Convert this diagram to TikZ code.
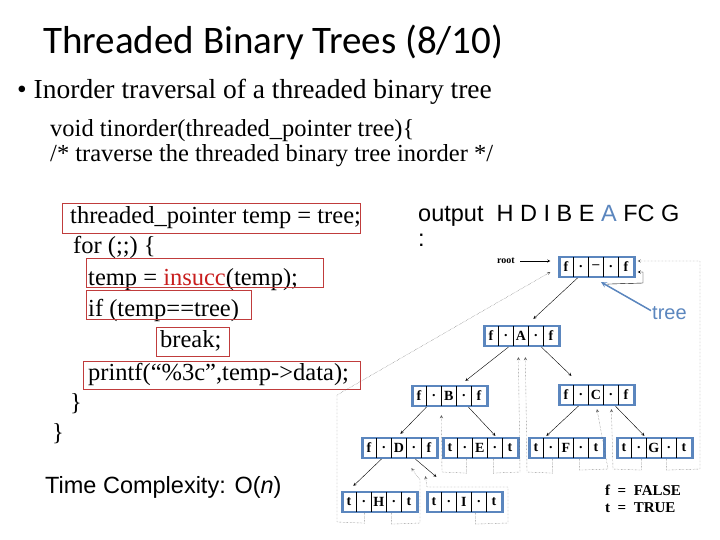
\documentclass[tikz,border=0pt]{standalone}
\usepackage{fontspec}
\setmainfont{Liberation Serif}
\newfontfamily\titlefont{Carlito}
\newfontfamily\arialfont{Liberation Sans}
\usetikzlibrary{calc, positioning}
\definecolor{treeblue}{RGB}{91,134,190}
\definecolor{boxred}{RGB}{192,60,60}
\definecolor{callred}{RGB}{200,30,30}
\tikzset
{
tbox/.style={draw=treeblue, line width=2.2pt, minimum width=75pt, minimum height=20pt, inner sep=0pt},
field/.style={font=\bfseries\fontsize{14}{14}\selectfont, inner sep=0pt},
code/.style={anchor=base west, inner sep=0pt, font=\fontsize{24.5}{24.5}\selectfont},
codebox/.style={draw=boxred, line width=0.8pt},
child/.style={->, >=stealth, thin},
thread/.style={->, >=stealth, densely dotted, gray!70!black, thin}
}
% one node of the threaded tree: name, position, left tag, data, right tag
\newcommand{\tnode}[5]{%
	\node[tbox] (#1) at (#2) {};
	\foreach \dx in {15,30,45,60}
		\draw[thin] ($(#1.north west)+(\dx,1)$) -- ($(#1.south west)+(\dx,-1)$);
	\node[field] at ($(#1.west)+(7.5,0)$) {#3};
	\node[field] at ($(#1.west)+(22.5,0)$) {.};
	\node[field] at ($(#1.west)+(37.5,0)$) {#4};
	\node[field] at ($(#1.west)+(52.5,0)$) {.};
	\node[field] at ($(#1.west)+(67.5,0)$) {#5};
}
\begin{document}
\begin{tikzpicture}[x=1pt, y=-1pt]
	\useasboundingbox (0,0) rectangle (720,540);

	% title and text
	\node[anchor=base west, inner sep=0pt, font=\titlefont\fontsize{39}{39}\selectfont] (title) at (43,54) {Threaded Binary Trees (8/10)};
	\node[anchor=base west, inner sep=0pt, font=\fontsize{27.5}{27.5}\selectfont] (bullet) at (17,99) {\textbullet\ Inorder traversal of a threaded binary tree};
	\node[code] (c1) at (50,137) {void tinorder(threaded\_pointer tree)\{};
	\node[code] (c2) at (50,162) {/* traverse the threaded binary tree inorder */};
	\node[code] (c3) at (70,224) {threaded\_pointer temp = tree;};
	\node[code] (c4) at (73,254) {for (;;) \{};
	\node[code] (c5) at (88,285) {temp = \textcolor{callred}{insucc}(temp);};
	\node[code] (c6) at (88,316) {if (temp==tree)};
	\node[code] (c7) at (160,347) {break;};
	\node[code] (c8) at (88,380) {printf(``\%3c'',temp->data);};
	\node[code] (c9) at (70,410) {\}};
	\node[code] (c10) at (52,440) {\}};

	% red frames round the code
	\draw[codebox] (62,203) rectangle (360,233);
	\draw[codebox] (86,258) rectangle (323,287);
	\draw[codebox] (86,290) rectangle (251,319);
	\draw[codebox] (156,327) rectangle (229,356);
	\draw[codebox] (83,361) rectangle (360,389);

	\node[anchor=base west, inner sep=0pt, font=\arialfont\fontsize{23.5}{23.5}\selectfont] (out) at (418,222) {output\ \ H D I B E \textcolor{treeblue}{A} FC G};
	\node[anchor=base west, inner sep=0pt, font=\arialfont\fontsize{23.5}{23.5}\selectfont] (colon) at (418,247) {:};
	\node[anchor=base west, inner sep=0pt, font=\arialfont\fontsize{23.5}{23.5}\selectfont] (tc) at (45,493) {Time Complexity: O(\textit{n})};

	% the tree
	\tnode{root}{597,267}{f}{--}{f}
	\tnode{A}{522,336}{f}{A}{f}
	\tnode{B}{450,396}{f}{B}{f}
	\tnode{C}{597,395}{f}{C}{f}
	\tnode{D}{400,448}{f}{D}{f}
	\tnode{E}{481,448}{t}{E}{t}
	\tnode{F}{567,448}{t}{F}{t}
	\tnode{G}{655,448}{t}{G}{t}
	\tnode{H}{380,502}{t}{H}{t}
	\tnode{I}{465,502}{t}{I}{t}

	\node[font=\bfseries\fontsize{10}{10}\selectfont, inner sep=0pt] (rootlbl) at (506,261) {root};
	\draw[child] (rootlbl.east) ++(5,0) -- ($(root.west)+(-8,-6)$);
	\draw[child] ($(root.south west)+(19,0)$) -- ($(A.north west)+(50,-6)$);
	\draw[child] ($(A.south west)+(25,0)$) -- ($(B.north west)+(54,-4)$);
	\draw[child] ($(A.south west)+(58,0)$) -- ($(C.north west)+(13,-8)$);
	\draw[child] ($(B.south west)+(15,0)$) -- ($(D.north west)+(39,-3)$);
	\draw[child] ($(B.south west)+(57,0)$) -- ($(E.north west)+(53,-1)$);
	\draw[child] ($(C.south west)+(20,0)$) -- ($(F.north west)+(18,-1)$);
	\draw[child] ($(C.south west)+(57,0)$) -- ($(G.north west)+(28,-1)$);
	\draw[child] ($(D.south west)+(20,0)$) -- ($(H.north west)+(12,-5)$);
	\draw[child] ($(D.south west)+(54,0)$) -- ($(I.north west)+(10,-14)$);
	% self link of the head
	\draw[->, >=stealth, thin] ($(root.south west)+(49,6)$) -- (643,283) -- (643,272) -- ($(root.east)+(2,5)$);

	% threads
	\draw[thread] ($(H.south west)+(23,0)$) -- ++(0,10) -- (337,522) -- (337,395) -- ($(root.west)+(-8,5)$);
	\draw[thread] ($(H.south west)+(50,0)$) -- ++(0,11) -- (420,523) -- (420,480) -- ($(D.south west)+(50,9)$);
	\draw[thread] ($(I.south west)+(49,0)$) -- ++(0,11) -- (508,523) -- (508,487) -- (427,487) -- ($(D.south west)+(64,17)$);
	\draw[thread] ($(E.south west)+(24,0)$) -- ++(0,14) -- (442,472) -- ($(B.south west)+(30,8)$);
	\draw[thread] ($(E.south west)+(51,0)$) -- ++(0,14) -- (520,472) -- ($(A.south west)+(35,10)$);
	\draw[thread] ($(F.south west)+(24,0)$) -- ++(0,14) -- (527,472) -- ($(A.south west)+(42,10)$);
	\draw[thread] ($(F.south west)+(51,0)$) -- ++(0,11) -- (608,469) -- ($(C.south)+(0,3)$);
	\draw[thread] ($(G.south west)+(25,0)$) -- ++(0,11) -- (613,469) -- ($(C.south west)+(53,3)$);
	\draw[thread] ($(G.south west)+(50,0)$) -- ++(0,11) -- (700,469) -- (700,261) -- ($(root.east)+(2,-6)$);

	% pointer named tree
	\node[anchor=base west, inner sep=0pt, font=\arialfont\fontsize{20}{20}\selectfont, text=treeblue] (treelbl) at (652,319) {tree};
	\draw[->, >=stealth, treeblue, line width=1.5pt] (treelbl.west) ++(-1,-2) -- ($(root.south)+(4,4)$);

	% legend
	\node[anchor=base west, inner sep=0pt, font=\bfseries\fontsize{15}{15}\selectfont] (lgf) at (605,495) {f\ \ =\ \ FALSE};
	\node[anchor=base west, inner sep=0pt, font=\bfseries\fontsize{15}{15}\selectfont] (lgt) at (605,512) {t\ \ =\ \ TRUE};
\end{tikzpicture}
\end{document}
